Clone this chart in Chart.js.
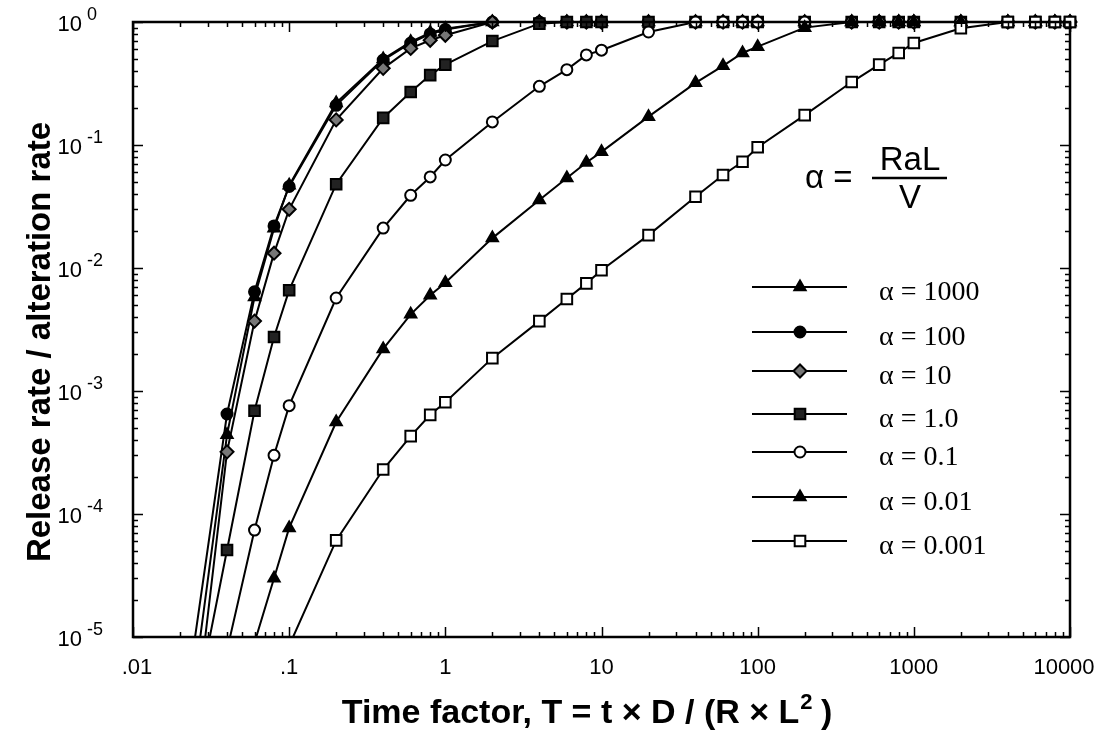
<!DOCTYPE html>
<html><head><meta charset="utf-8">
<script src="https://cdn.jsdelivr.net/npm/chart.js@4.4.1/dist/chart.umd.min.js"></script>
<style>html,body{margin:0;padding:0;background:#fff;}canvas{display:block;}</style>
</head><body>
<canvas id="c" width="1115" height="734"></canvas>
<script>
// ---- data ----
const TIME = [0.02, 0.04, 0.06, 0.08, 0.1, 0.2, 0.4, 0.6, 0.8, 1, 2, 4, 6, 8, 10, 20, 40, 60, 80, 100, 200, 400, 600, 800, 1000, 2000, 4000, 6000, 8000, 10000];
const A_1000 = [5.7e-7, 4.4e-4, 5.8e-3, 0.021, 0.047, 0.22, 0.50, 0.69, 0.82, 0.88, 1, 1, 1, 1, 1, 1, 1, 1, 1, 1, 1, 1, 1, 1, 1, 1, 1, 1, 1, 1];
const A_100 = [1.4e-6, 6.5e-4, 6.4e-3, 0.022, 0.046, 0.21, 0.49, 0.675, 0.80, 0.87, 1, 1, 1, 1, 1, 1, 1, 1, 1, 1, 1, 1, 1, 1, 1, 1, 1, 1, 1, 1];
const A_10 = [1.8e-7, 3.2e-4, 3.7e-3, 0.0132, 0.030, 0.16, 0.42, 0.61, 0.71, 0.78, 1, 1, 1, 1, 1, 1, 1, 1, 1, 1, 1, 1, 1, 1, 1, 1, 1, 1, 1, 1];
const A_1 = [6e-7, 5.1e-5, 6.9e-4, 2.75e-3, 6.6e-3, 0.048, 0.166, 0.27, 0.37, 0.45, 0.70, 0.97, 1, 1, 1, 1, 1, 1, 1, 1, 1, 1, 1, 1, 1, 1, 1, 1, 1, 1];
const A_01 = [null, 7.8e-6, 7.4e-5, 3.0e-4, 7.6e-4, 5.7e-3, 0.0211, 0.039, 0.055, 0.0755, 0.154, 0.30, 0.41, 0.54, 0.59, 0.83, 1, 1, 1, 1, 1, 1, 1, 1, 1, 1, 1, 1, 1, 1];
const A_001 = [null, null, 9e-6, 3.0e-5, 7.7e-5, 5.6e-4, 2.2e-3, 4.2e-3, 6.0e-3, 7.6e-3, 0.0175, 0.0357, 0.054, 0.072, 0.088, 0.17, 0.32, 0.44, 0.56, 0.63, 0.90, 1, 1, 1, 1, 1, 1, 1, 1, 1];
const A_0001 = [null, null, null, null, 8.5e-6, 6.1e-5, 2.3e-4, 4.3e-4, 6.4e-4, 8.1e-4, 1.85e-3, 3.7e-3, 5.6e-3, 7.5e-3, 9.6e-3, 0.0185, 0.038, 0.057, 0.073, 0.096, 0.175, 0.325, 0.45, 0.56, 0.675, 0.89, 1, 1, 1, 1];

const SERIES_LABELS = ['α = 1000', 'α = 100', 'α = 10', 'α = 1.0', 'α = 0.1', 'α = 0.01', 'α = 0.001'];
const X_TICK_VALUES = [0.01, 0.1, 1, 10, 100, 1000, 10000];
const X_TICK_LABELS = ['.01', '.1', '1', '10', '100', '1000', '10000'];
const Y_TICK_VALUES = [1, 0.1, 0.01, 0.001, 0.0001, 0.00001];
const Y_TICK_EXPONENTS = ['0', '-1', '-2', '-3', '-4', '-5'];
const X_TITLE = 'Time factor, T = t × D / (R × L';
const X_TITLE_SUP = '2';
const X_TITLE_END = ' )';
const Y_TITLE = 'Release rate / alteration rate';

// ---- styles ----
const STYLES = [
  {ps: 'triangle', r: 6.5, bg: '#000'},
  {ps: 'circle', r: 5.5, bg: '#000'},
  {ps: 'rectRot', r: 6.5, bg: '#777'},
  {ps: 'rect', r: 7.5, bg: '#222'},
  {ps: 'circle', r: 5.5, bg: '#fff'},
  {ps: 'triangle', r: 6.5, bg: '#000'},
  {ps: 'rect', r: 7.5, bg: '#fff'}
];
const SERIES = [A_1000, A_100, A_10, A_1, A_01, A_001, A_0001];

function toPoints(arr) {
  const out = [];
  arr.forEach((v, i) => { if (v !== null) out.push({x: TIME[i], y: v}); });
  return out;
}

const datasets = SERIES.map((arr, i) => ({
  label: SERIES_LABELS[i],
  data: toPoints(arr),
  borderColor: '#000',
  borderWidth: 2,
  backgroundColor: STYLES[i].bg,
  pointStyle: STYLES[i].ps,
  pointBackgroundColor: STYLES[i].bg,
  pointBorderColor: '#000',
  pointBorderWidth: 2,
  pointRadius: (ctx) => (ctx.raw && ctx.raw.y < 1e-5) ? 0 : STYLES[i].r,
  tension: 0,
  order: 7 - i,
  clip: {left: 0, top: 12, right: 12, bottom: 0}
}));

function drawMarker(ctx, style, x, y, r, fill) {
  ctx.save();
  ctx.beginPath();
  if (style === 'circle') {
    ctx.arc(x, y, r, 0, Math.PI * 2);
  } else if (style === 'triangle') {
    ctx.moveTo(x, y - r);
    ctx.lineTo(x + 0.866 * r, y + 0.5 * r);
    ctx.lineTo(x - 0.866 * r, y + 0.5 * r);
    ctx.closePath();
  } else if (style === 'rect') {
    const s = Math.SQRT1_2 * r;
    ctx.rect(x - s, y - s, 2 * s, 2 * s);
  } else if (style === 'rectRot') {
    ctx.moveTo(x - r, y); ctx.lineTo(x, y - r); ctx.lineTo(x + r, y); ctx.lineTo(x, y + r);
    ctx.closePath();
  }
  ctx.fillStyle = fill; ctx.fill();
  ctx.lineWidth = 2; ctx.strokeStyle = '#000'; ctx.stroke();
  ctx.restore();
}

const framePlugin = {
  id: 'frame',
  afterDraw(chart) {
    const ctx = chart.ctx;
    const a = chart.chartArea;
    const xs = chart.scales.x, ys = chart.scales.y;
    ctx.save();
    ctx.strokeStyle = '#000';
    // ticks
    ctx.lineWidth = 1.5;
    for (let d = -2; d <= 4; d++) {
      for (let m = 1; m <= 9; m++) {
        const v = m * Math.pow(10, d);
        if (v > 10000.0001) break;
        const px = Math.round(xs.getPixelForValue(v)) + 0.5;
        const len = m === 1 ? 10 : 5;
        ctx.beginPath();
        ctx.moveTo(px, a.bottom); ctx.lineTo(px, a.bottom - len);
        ctx.moveTo(px, a.top); ctx.lineTo(px, a.top + len);
        ctx.stroke();
      }
    }
    for (let d = -5; d <= 0; d++) {
      for (let m = 1; m <= 9; m++) {
        const v = m * Math.pow(10, d);
        if (v > 1.0001) break;
        const py = Math.round(ys.getPixelForValue(v)) + 0.5;
        const len = m === 1 ? 10 : 5;
        ctx.beginPath();
        ctx.moveTo(a.left, py); ctx.lineTo(a.left + len, py);
        ctx.moveTo(a.right, py); ctx.lineTo(a.right - len, py);
        ctx.stroke();
      }
    }
    // frame
    ctx.lineWidth = 2.5;
    ctx.strokeRect(a.left, a.top, a.right - a.left, a.bottom - a.top);

    // x tick labels
    ctx.fillStyle = '#000';
    ctx.font = '22px "Liberation Sans", Arial, sans-serif';
    ctx.textAlign = 'center';
    ctx.textBaseline = 'alphabetic';
    X_TICK_VALUES.forEach((v, i) => {
      let px = xs.getPixelForValue(v);
      if (i === X_TICK_VALUES.length - 1) px -= 6;
      if (i === 0) px += 4;
      ctx.fillText(X_TICK_LABELS[i], px, a.bottom + 37);
    });
    // y tick labels with superscript exponent
    Y_TICK_VALUES.forEach((v, i) => {
      const py = ys.getPixelForValue(v);
      ctx.font = '22px "Liberation Sans", Arial, sans-serif';
      ctx.textAlign = 'right';
      ctx.fillText('10', 82, py + 9);
      ctx.font = '18px "Liberation Sans", Arial, sans-serif';
      ctx.textAlign = 'left';
      ctx.fillText(Y_TICK_EXPONENTS[i], 87, py - 2);
    });

    // x title
    const big = 'bold 34px "Liberation Sans", Arial, sans-serif';
    const sup = 'bold 22px "Liberation Sans", Arial, sans-serif';
    ctx.font = big;
    const w1 = ctx.measureText(X_TITLE).width;
    ctx.font = sup;
    const w2 = ctx.measureText(X_TITLE_SUP).width;
    ctx.font = big;
    const w3 = ctx.measureText(X_TITLE_END).width;
    let x0 = 587 - (w1 + w2 + w3) / 2;
    const by = 723;
    ctx.textAlign = 'left';
    ctx.fillText(X_TITLE, x0, by);
    ctx.font = sup;
    ctx.fillText(X_TITLE_SUP, x0 + w1 + 1, by - 14);
    ctx.font = big;
    ctx.fillText(X_TITLE_END, x0 + w1 + w2, by);

    // y title
    ctx.save();
    ctx.translate(50, 342);
    ctx.rotate(-Math.PI / 2);
    ctx.textAlign = 'center';
    ctx.font = 'bold 33px "Liberation Sans", Arial, sans-serif';
    ctx.fillText(Y_TITLE, 0, 0);
    ctx.restore();

    // formula alpha = RaL / V
    ctx.font = '33px "Liberation Sans", Arial, sans-serif';
    ctx.textAlign = 'left';
    ctx.fillText('α =', 805, 188);
    ctx.textAlign = 'center';
    ctx.fillText('RaL', 910, 170);
    ctx.fillText('V', 910, 208);
    ctx.lineWidth = 2.5;
    ctx.beginPath(); ctx.moveTo(872, 178); ctx.lineTo(947, 178); ctx.stroke();

    // legend
    const rows = [287, 332, 371, 414, 452, 497, 541];
    ctx.font = '28px "Liberation Serif", "Times New Roman", serif';
    ctx.textAlign = 'left';
    rows.forEach((ry, i) => {
      ctx.lineWidth = 2;
      ctx.beginPath(); ctx.moveTo(752, ry); ctx.lineTo(847, ry); ctx.stroke();
      drawMarker(ctx, STYLES[i].ps, 800, ry, STYLES[i].r, STYLES[i].bg);
      ctx.fillStyle = '#000';
      ctx.fillText(SERIES_LABELS[i], 879, ry + 13);
    });
    ctx.restore();
  }
};

new Chart(document.getElementById('c'), {
  type: 'line',
  data: {datasets},
  options: {
    responsive: false,
    animation: false,
    devicePixelRatio: 1,
    layout: {padding: {left: 133, right: 45, top: 22, bottom: 97}},
    plugins: {legend: {display: false}, tooltip: {enabled: false}},
    scales: {
      x: {type: 'logarithmic', min: 0.01, max: 10000, display: false},
      y: {type: 'logarithmic', min: 1e-5, max: 1, display: false}
    }
  },
  plugins: [framePlugin]
});
</script>
</body></html>
